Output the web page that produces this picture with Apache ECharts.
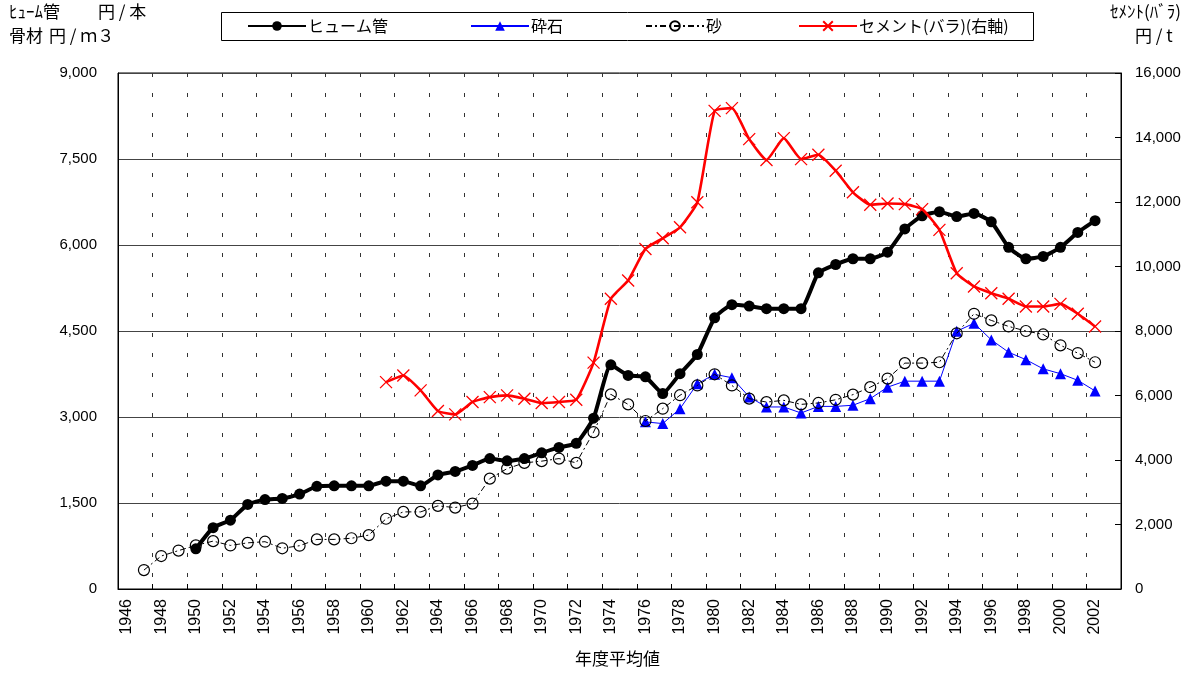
<!DOCTYPE html>
<html>
<head>
<meta charset="utf-8">
<script src="https://cdn.jsdelivr.net/npm/echarts@6/dist/echarts.min.js"></script>
<style>
html,body{margin:0;padding:0;background:#fff;}
#chart{width:1198px;height:677px;}
</style>
</head>
<body>
<div id="chart"></div>
<script>
// Categories: fiscal years 1946..2003
const firstYear = 1946;
const lastYear = 2003;
const years = [];
for (let y = firstYear; y <= lastYear; y++) years.push(String(y));

// ヒューム管 (円/本) from 1950
const humeStart = 1950;
const humeValues = [700, 1070, 1200, 1475, 1560, 1580, 1655, 1790, 1800, 1800,
  1800, 1880, 1880, 1800, 1990, 2050, 2155, 2275, 2235, 2275,
  2375, 2470, 2540, 2980, 3910, 3725, 3700, 3410, 3755, 4090,
  4730, 4960, 4935, 4890, 4890, 4890, 5515, 5660, 5760, 5760,
  5875, 6280, 6510, 6580, 6495, 6550, 6405, 5960, 5760, 5800,
  5960, 6220, 6425];

// 砕石 (円/m3) from 1976
const stoneStart = 1976;
const stoneValues = [2915, 2885, 3145, 3580, 3745, 3685, 3350, 3175, 3175, 3070,
  3185, 3185, 3205, 3320, 3520, 3625, 3625, 3625, 4495, 4635,
  4345, 4130, 4000, 3840, 3755, 3640, 3455];

// 砂 (円/m3) from 1947
const sandStart = 1947;
const sandValues = [330, 575, 670, 760, 835, 760, 805, 825, 710, 755,
  865, 865, 885, 940, 1225, 1345, 1345, 1450, 1420, 1490,
  1925, 2100, 2200, 2230, 2275, 2200, 2735, 3395, 3220, 2930,
  3145, 3380, 3550, 3745, 3550, 3320, 3260, 3290, 3220, 3245,
  3300, 3390, 3520, 3670, 3940, 3940, 3955, 4460, 4800, 4685,
  4580, 4500, 4440, 4250, 4115, 3955];

// セメント(バラ) (円/t, right axis) from 1961
const cementStart = 1961;
const cementValues = [6415, 6620, 6160, 5520, 5415, 5800, 5950, 6005, 5900, 5765,
  5800, 5870, 7020, 9000, 9565, 10545, 10875, 11215, 11990, 14825,
  14910, 13950, 13300, 13980, 13330, 13465, 12970, 12300, 11915, 11955,
  11935, 11780, 11135, 9790, 9380, 9170, 9000, 8760, 8760, 8840,
  8535, 8140];

const seriesNames = ['ヒューム管', '砕石', '砂', 'セメント(バラ)(右軸)'];

function pad(start, vals) {
  const out = years.map(() => null);
  vals.forEach((v, i) => { out[start - firstYear + i] = v; });
  return out;
}

const numFont = '"Liberation Sans", Arial, sans-serif';
const jpFont = '"Noto Sans CJK JP", sans-serif';

const chart = echarts.init(document.getElementById('chart'), null, {renderer: 'canvas'});

function legendAt(left, name) {
  return {
    data: [name], left: left, top: 18, padding: 0,
    itemWidth: 58, itemHeight: 12, itemGap: 0,
    textStyle: {fontFamily: jpFont, fontSize: 16, color: '#000', padding: [0, 0, 0, -3]},
    selectedMode: false
  };
}

const option = {
  animation: false,
  backgroundColor: '#fff',
  grid: {left: 118, right: 77, top: 73, bottom: 88, show: true,
         borderColor: '#000', borderWidth: 1, backgroundColor: 'transparent'},
  legend: [
    legendAt(247, seriesNames[0]),
    legendAt(470, seriesNames[1]),
    legendAt(645, seriesNames[2]),
    legendAt(798, seriesNames[3])
  ],
  graphic: [
    {type: 'rect', shape: {x: 221.5, y: 12.5, width: 812, height: 28},
     style: {fill: 'none', stroke: '#000', lineWidth: 1}, z: 0},
    {type: 'text', left: 9, top: 3, style: {text: 'ﾋｭｰﾑ管', font: '17px "Noto Sans CJK JP"', fill: '#000'}},
    {type: 'text', left: 98, top: 3, style: {text: '円 / 本', font: '17px "Noto Sans CJK JP"', fill: '#000'}},
    {type: 'text', left: 9, top: 27, style: {text: '骨材', font: '17px "Noto Sans CJK JP"', fill: '#000'}},
    {type: 'text', left: 49, top: 27, style: {text: '円 / ｍ３', font: '17px "Noto Sans CJK JP"', fill: '#000'}},
    {type: 'text', left: 1110, top: 3, style: {text: 'ｾﾒﾝﾄ(ﾊﾞﾗ)', font: '17px "Noto Sans CJK JP"', fill: '#000'}},
    {type: 'text', left: 1135, top: 27, style: {text: '円 / t', font: '17px "Noto Sans CJK JP"', fill: '#000'}},
    {type: 'text', left: 575, top: 650, style: {text: '年度平均値', font: '17px "Noto Sans CJK JP"', fill: '#000'}}
  ],
  xAxis: {
    type: 'category', data: years, boundaryGap: true,
    axisLine: {show: true, lineStyle: {color: '#000', width: 1}},
    axisTick: {show: true, interval: 1, inside: true, length: 5, alignWithLabel: false,
               lineStyle: {color: '#000'}},
    axisLabel: {interval: 1, rotate: 90, fontSize: 16, margin: 10, color: '#000', fontFamily: numFont},
    splitLine: {show: true, interval: 1, lineStyle: {color: '#333', width: 1, type: [4, 16]}}
  },
  yAxis: [
    {type: 'value', min: 0, max: 9000, interval: 1500, position: 'left',
     axisLine: {show: true, lineStyle: {color: '#000'}},
     axisTick: {show: false},
     axisLabel: {fontSize: 15, margin: 21, color: '#000', fontFamily: numFont},
     splitLine: {show: true, lineStyle: {color: '#444', width: 1}}},
    {type: 'value', min: 0, max: 16000, interval: 2000, position: 'right',
     axisLine: {show: true, lineStyle: {color: '#000'}},
     axisTick: {show: true, inside: true, length: 6, lineStyle: {color: '#000'}},
     axisLabel: {fontSize: 15, margin: 14, color: '#000', fontFamily: numFont},
     splitLine: {show: false}}
  ],
  series: [
    {name: seriesNames[0], type: 'line', yAxisIndex: 0, data: pad(humeStart, humeValues),
     smooth: 0.15, symbol: 'circle', symbolSize: 11, showAllSymbol: true,
     lineStyle: {color: '#000', width: 4},
     itemStyle: {color: '#000'}, z: 3},
    {name: seriesNames[1], type: 'line', yAxisIndex: 0, data: pad(stoneStart, stoneValues),
     symbol: 'triangle', symbolSize: 11, showAllSymbol: true,
     lineStyle: {color: '#0000ff', width: 1},
     itemStyle: {color: '#0000ff'}, z: 4},
    {name: seriesNames[2], type: 'line', yAxisIndex: 0, data: pad(sandStart, sandValues),
     symbol: 'circle', symbolSize: 11, showAllSymbol: true,
     lineStyle: {color: '#000', width: 1, type: [6, 3, 2, 3]},
     itemStyle: {color: 'rgba(255,255,255,0)', borderColor: '#000', borderWidth: 1.2}, z: 5},
    {name: seriesNames[3], type: 'line', yAxisIndex: 1, data: pad(cementStart, cementValues),
     smooth: 0.15, symbol: 'path://M0,0L10,10M10,0L0,10', symbolSize: 12, showAllSymbol: true,
     lineStyle: {color: '#ff0000', width: 2.6},
     itemStyle: {color: 'none', borderColor: '#ff0000', borderWidth: 1.3}, z: 6}
  ]
};
chart.setOption(option);
</script>
</body>
</html>
